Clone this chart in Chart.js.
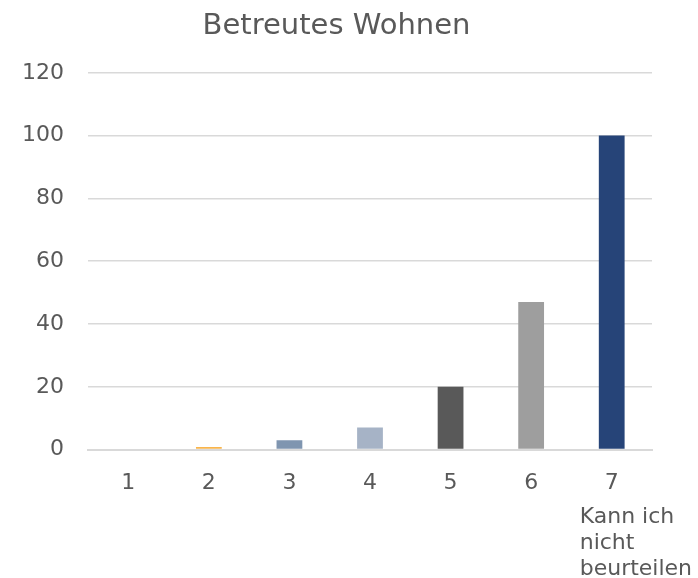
<!DOCTYPE html>
<html>
<head>
<meta charset="utf-8">
<script src="https://cdn.jsdelivr.net/npm/chart.js@4/dist/chart.umd.min.js"></script>
<style>
  html, body { margin: 0; padding: 0; background: #fff; }
  #wrap { width: 698px; height: 578px; }
</style>
</head>
<body>
<div id="wrap"><canvas id="barChart"></canvas></div>
<script>
  var labels = ["1", "2", "3", "4", "5", "6", "7"];
  var values = [0, 0.8, 3, 7, 20, 47, 100];
  var barColors = ['#FFC000', '#F9B54C', '#7F95B0', '#A6B3C6', '#595959', '#9E9E9E', '#264478'];
  var yTicks = [0, 20, 40, 60, 80, 100, 120];
  var noteLines = ["Kann ich", "nicht", "beurteilen"];
  var noteIndex = 6;

  var textColor = '#595959';
  var fontFamily = "'DejaVu Sans', Verdana, sans-serif";

  // extra text under category 7
  var notePlugin = {
    id: 'note',
    afterDraw: function (chart) {
      var ctx = chart.ctx;
      var x = chart.scales.x.getPixelForValue(noteIndex);
      var top = chart.chartArea.bottom;
      ctx.save();
      ctx.font = '22px ' + fontFamily;
      ctx.fillStyle = textColor;
      ctx.textAlign = 'left';
      ctx.textBaseline = 'alphabetic';
      noteLines.forEach(function (line, i) {
        ctx.fillText(line, x - 32, top + 73 + i * 26);
      });
      ctx.restore();
    }
  };

  var ctxB = document.getElementById("barChart").getContext('2d');
  var myBarChart = new Chart(ctxB, {
    type: 'bar',
    data: {
      labels: labels,
      datasets: [{
        label: "Betreutes Wohnen",
        data: values,
        backgroundColor: barColors,
        borderWidth: 0,
        categoryPercentage: 1,
        barPercentage: 0.32
      }]
    },
    options: {
      responsive: true,
      maintainAspectRatio: false,
      animation: false,
      layout: { padding: { left: 21, right: 46, top: 9, bottom: 62 } },
      plugins: {
        legend: { display: false },
        tooltip: { enabled: false },
        title: {
          display: true,
          text: "Betreutes Wohnen",
          color: textColor,
          font: { family: fontFamily, size: 29, weight: 'normal' },
          padding: { top: 0, bottom: 29 }
        }
      },
      scales: {
        x: {
          grid: { display: false, drawTicks: false },
          border: { display: true, color: '#D9D9D9', width: 2 },
          ticks: { color: textColor, font: { family: fontFamily, size: 22 }, padding: 20 }
        },
        y: {
          min: 0,
          max: 120,
          afterBuildTicks: function (axis) {
            axis.ticks = yTicks.map(function (v) { return { value: v }; });
          },
          afterFit: function (axis) { axis.width = 67; },
          grid: { color: '#D9D9D9', lineWidth: 1.5, drawTicks: false },
          border: { display: false },
          ticks: { color: textColor, font: { family: fontFamily, size: 22 }, padding: 24 }
        }
      }
    },
    plugins: [notePlugin]
  });
</script>
</body>
</html>
